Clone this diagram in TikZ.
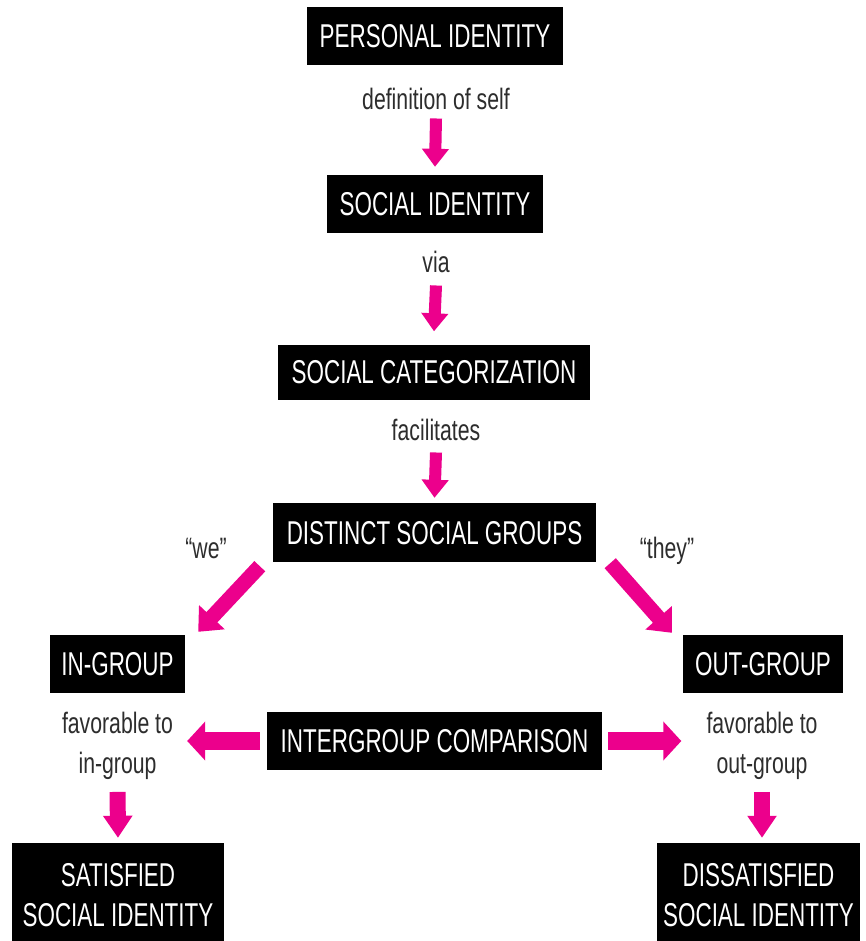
\documentclass[tikz,border=0pt]{standalone}
\usepackage{fontspec}
\setmainfont{Liberation Sans}[FakeStretch=0.72]
\newfontfamily\boxfamily{Liberation Sans}[FakeStretch=0.68]
\usetikzlibrary{arrows.meta}
\definecolor{pinkc}{RGB}{236,0,140}
\definecolor{labgray}{RGB}{45,45,45}
\newcommand\boxfont{\boxfamily\fontsize{33}{40}\selectfont}
\newcommand\labfont{\fontsize{29.5}{40}\selectfont}

\begin{document}
\begin{tikzpicture}[x=1pt,y=-1pt,
  box/.style={fill=black, text=white, inner sep=0pt, font=\boxfont,
    minimum height=58pt},
  onebox/.style={box, text height=23.5pt, text depth=0pt},
  twobox/.style={box, align=center, minimum height=104pt},
  lab/.style={text=labgray, inner sep=0pt, font=\labfont},
  fatarrow/.style n args={3}{draw=pinkc, line width=#1,
    -{Triangle[width=#2, length=#3]}},
  arrowA/.style={fatarrow={12pt}{26pt}{18pt}},
  arrowB/.style={fatarrow={15pt}{34pt}{20pt}},
  arrowC/.style={fatarrow={18pt}{38pt}{18pt}},
  arrowD/.style={fatarrow={16pt}{28pt}{22pt}}]
\useasboundingbox (0,0) rectangle (865,941);
\clip (0,0) rectangle (865,941);
\fill[white] (0,0) rectangle (865,941);

% main chain
\node[onebox, minimum width=256pt] (pi) at (435,36) {PERSONAL IDENTITY};
\node[lab, anchor=base] (def) at (436,110) {definition of self};
\node[onebox, minimum width=216pt] (si) at (435,204) {SOCIAL IDENTITY};
\node[lab, anchor=base] (via) at (436,272) {via};
\node[onebox, minimum width=312pt, minimum height=55pt] (sc) at (434,372) {SOCIAL CATEGORIZATION};
\node[lab, anchor=base] (fac) at (436,440) {facilitates};
\node[onebox, minimum width=323pt, minimum height=59pt] (dsg) at (434.5,532.5) {DISTINCT SOCIAL GROUPS};

% branch labels
\node[lab, anchor=base] (we) at (206,558) {“we”};
\node[lab, anchor=base] (they) at (667,558) {“they”};

% groups
\node[onebox, minimum width=135pt] (ig) at (117.5,664) {IN-GROUP};
\node[onebox, minimum width=160pt] (og) at (763,664) {OUT-GROUP};
\node[onebox, minimum width=335pt] (igc) at (434.5,741) {INTERGROUP COMPARISON};
\node[lab, align=center] (favin) at (117.5,746) {favorable to\\in-group};
\node[lab, align=center] (favout) at (762,746) {favorable to\\out-group};

% outcomes
\node[twobox, minimum width=212pt] (sat) at (118,895) {SATISFIED\\SOCIAL IDENTITY};
\node[twobox, minimum width=203pt] (dis) at (758.5,895) {DISSATISFIED\\SOCIAL IDENTITY};

% arrows
\draw[arrowA] ([yshift=-8pt]def.south) -- ([yshift=8pt]si.north);
\draw[arrowA] ([yshift=-13pt]via.south) -- ([yshift=13pt]sc.north);
\draw[arrowA] ([yshift=-12pt]fac.south) -- ([yshift=5pt]dsg.north);
\draw[arrowB] ([shift={(-13pt,-4pt)}]dsg.south west) -- ([shift={(13pt,3pt)}]ig.north east);
\draw[arrowB] ([shift={(14pt,-1pt)}]dsg.south east) -- ([shift={(-11pt,2pt)}]og.north west);
\draw[arrowC, shorten <=7pt, shorten >=14pt] (igc.west) -- (favin.east |- igc.west);
\draw[arrowC, shorten <=6pt, shorten >=25pt] (igc.east) -- (favout.west |- igc.east);
\draw[arrowD, shorten <=12pt, shorten >=5pt] (favin.south) -- (sat.north);
\draw[arrowD, shorten <=12pt, shorten >=5pt] (favout.south) -- (favout.south |- dis.north);
\end{tikzpicture}
\end{document}
